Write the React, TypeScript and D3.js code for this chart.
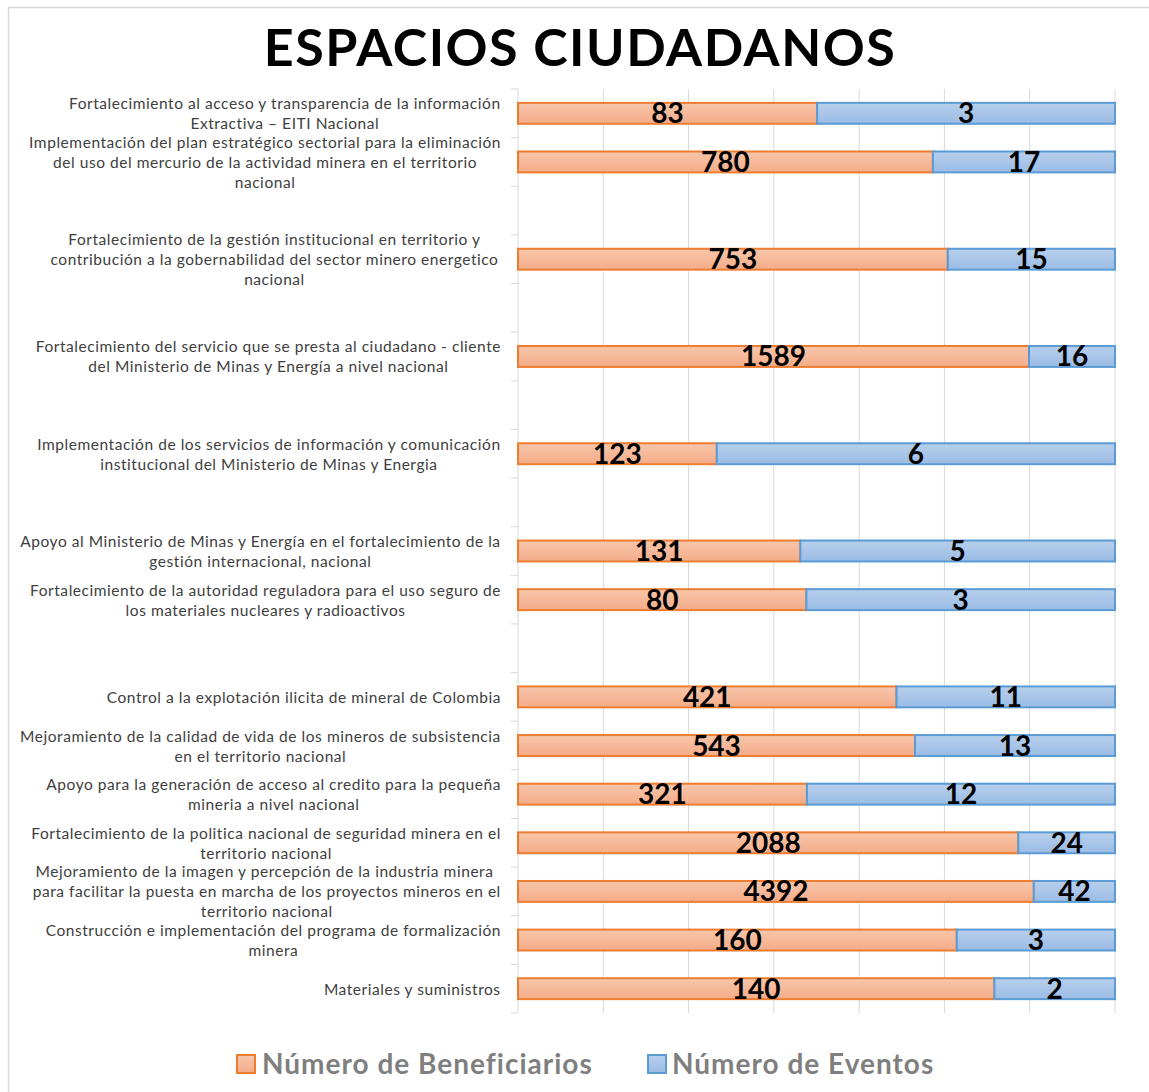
import * as d3 from "d3";
import React from "react";

// category labels, already broken into the lines shown in the chart
const categories: string[][] = [
  ["Fortalecimiento al acceso y transparencia de la información", "Extractiva – EITI Nacional"],
  ["Implementación del plan estratégico sectorial para la eliminación", "del uso del mercurio de la actividad minera en el territorio", "nacional"],
  [],
  ["Fortalecimiento de la gestión institucional en territorio y", "contribución a la gobernabilidad del sector  minero energetico", "nacional"],
  [],
  ["Fortalecimiento del servicio que se presta al ciudadano - cliente", "del Ministerio de Minas y Energía a nivel nacional"],
  [],
  ["Implementación de los servicios de información y comunicación", "institucional del Ministerio de Minas y Energia"],
  [],
  ["Apoyo al Ministerio de Minas y Energía en el fortalecimiento de la", "gestión internacional, nacional"],
  ["Fortalecimiento de la autoridad reguladora para el uso seguro de", "los materiales nucleares y radioactivos"],
  [],
  ["Control a la explotación ilicita de mineral de Colombia"],
  ["Mejoramiento de la calidad de vida de los mineros de subsistencia", "en el territorio nacional"],
  ["Apoyo para la generación de acceso al credito para la pequeña", "mineria a nivel nacional"],
  ["Fortalecimiento de la politica nacional de seguridad minera en el", "territorio nacional"],
  ["Mejoramiento de la imagen y percepción de la industria minera ", "para facilitar la puesta en marcha de los proyectos mineros en el", "territorio nacional"],
  ["Construcción e implementación del programa de formalización", "minera"],
  ["Materiales y suministros"],
];

// data labels
const beneficiarios: (number | null)[] = [83, 780, null, 753, null, 1589, null, 123, null, 131, 80, null, 421, 543, 321, 2088, 4392, 160, 140];
const eventos: (number | null)[] = [3, 17, null, 15, null, 16, null, 6, null, 5, 3, null, 11, 13, 12, 24, 42, 3, 2];
// share of the bar taken by the orange segment (%)
const shareBeneficiarios: (number | null)[] = [50.1, 69.5, null, 72.0, null, 85.6, null, 33.3, null, 47.3, 48.3, null, 63.4, 66.5, 48.4, 83.8, 86.4, 73.5, 79.8];

const seriesNames = ["Número de Beneficiarios", "Número de Eventos"];
const gridSteps = 7;

const W = 1149;
const H = 1092;
const plot = { left: 518, right: 1115, top: 89, bottom: 1013 };

const labelSize = 15.5;
const labelSpacing = 0.55;
let ctx: CanvasRenderingContext2D | null = null;
const measure = (s: string) => {
  if (!ctx) ctx = document.createElement("canvas").getContext("2d");
  if (!ctx) return s.length * 7.4;
  ctx.font = `${labelSize}px Lato`;
  return ctx.measureText(s).width + s.length * labelSpacing;
};

export default function App() {
  const x = d3.scaleLinear().domain([0, 100]).range([plot.left, plot.right]);
  const y = d3
    .scaleBand<number>()
    .domain(d3.range(categories.length))
    .range([plot.top, plot.bottom])
    .paddingInner(0.57)
    .paddingOuter(0.285);
  const step = y.step();
  const bw = y.bandwidth();

  const grid = d3.range(gridSteps + 1).map((i) => x((i * 100) / gridSteps));

  return (
    <div style={{ position: "absolute", left: 0, top: 0 }}>
      <svg width={W} height={H} style={{ display: "block", background: "#fff" }}>
        <defs>
          <linearGradient id="gOrange" x1="0" y1="0" x2="0" y2="1">
            <stop offset="0" stopColor="#f8c6aa" />
            <stop offset="1" stopColor="#f4ac89" />
          </linearGradient>
          <linearGradient id="gBlue" x1="0" y1="0" x2="0" y2="1">
            <stop offset="0" stopColor="#b7cfec" />
            <stop offset="1" stopColor="#9bbce5" />
          </linearGradient>
        </defs>

        {/* chart area border */}
        <rect x={8.5} y={7.5} width={W + 20} height={H + 20} fill="none" stroke="#d9d9d9" strokeWidth={1.5} />

        <text x={580} y={66} textAnchor="middle" fontFamily="Lato" fontWeight={700} fontSize={52} letterSpacing={1.5} fill="#000">
          ESPACIOS CIUDADANOS
        </text>

        {/* gridlines */}
        {grid.map((gx, i) => (
          <line key={i} x1={gx} x2={gx} y1={plot.top} y2={plot.bottom} stroke="#d9d9d9" strokeWidth={1} />
        ))}
        {/* category axis ticks */}
        {d3.range(categories.length + 1).map((i) => (
          <line key={i} x1={plot.left - 7} x2={plot.left} y1={plot.top + i * step} y2={plot.top + i * step} stroke="#d9d9d9" />
        ))}

        {/* category labels */}
        {categories.map((lines, i) => {
          if (!lines.length) return null;
          const cy = (y(i) as number) + bw / 2;
          const blockW = d3.max(lines, (l) => measure(l)) as number;
          const cx = 501 - blockW / 2;
          return (
            <text key={i} x={cx} textAnchor="middle" fontFamily="Lato" fontSize={labelSize} letterSpacing={labelSpacing} fill="#404040">
              {lines.map((l, j) => (
                <tspan key={j} x={cx} y={cy + (j - (lines.length - 1) / 2) * 20} dominantBaseline="central">
                  {l}
                </tspan>
              ))}
            </text>
          );
        })}

        {/* bars */}
        {categories.map((_, i) => {
          const share = shareBeneficiarios[i];
          if (share == null) return null;
          const top = y(i) as number;
          const x0 = x(0);
          const x1 = x(share);
          const x2 = x(100);
          return (
            <g key={i}>
              <rect x={x0} y={top} width={x1 - x0} height={bw} fill="url(#gOrange)" stroke="#ed7d31" strokeWidth={2} />
              <rect x={x1} y={top} width={x2 - x1} height={bw} fill="url(#gBlue)" stroke="#5b9bd5" strokeWidth={2} />
              <text x={(x0 + x1) / 2} y={top + bw / 2 + 10} textAnchor="middle" fontFamily="Lato" fontWeight={700} fontSize={28} fill="#000">
                {beneficiarios[i]}
              </text>
              <text x={(x1 + x2) / 2} y={top + bw / 2 + 10} textAnchor="middle" fontFamily="Lato" fontWeight={700} fontSize={28} fill="#000">
                {eventos[i]}
              </text>
            </g>
          );
        })}

        {/* legend */}
        <g fontFamily="Lato" fontWeight={700} fontSize={28} letterSpacing={1} fill="#7f7f7f">
          <rect x={237} y={1055} width={18} height={18} fill="url(#gOrange)" stroke="#ed7d31" strokeWidth={2} />
          <text x={262} y={1074}>{seriesNames[0]}</text>
          <rect x={648} y={1055} width={18} height={18} fill="url(#gBlue)" stroke="#5b9bd5" strokeWidth={2} />
          <text x={672} y={1074}>{seriesNames[1]}</text>
        </g>
      </svg>
    </div>
  );
}
